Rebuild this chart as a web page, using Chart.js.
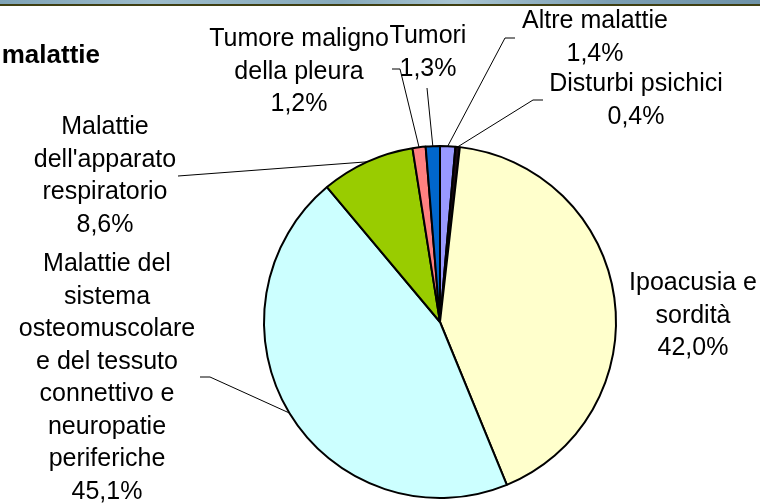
<!DOCTYPE html>
<html>
<head>
<meta charset="utf-8">
<script src="https://cdn.jsdelivr.net/npm/chart.js@4.4.0/dist/chart.umd.min.js"></script>
<style>
	body { margin: 0; background: #fff; }
	#wrap { position: relative; width: 760px; height: 504px; }
	#band {
		position: absolute; left: 0; top: 0; width: 760px; height: 4px;
		background: linear-gradient(90deg, #7fa3b6 0%, #9dbccb 20%, #87aabb 45%, #a9c5d2 60%, #7c9fb3 80%, #6f93a8 100%);
		border-bottom: 2px solid #3f3f12;
	}
</style>
</head>
<body>
<div id="wrap">
	<canvas id="graph" width="760" height="504"></canvas>
	<div id="band"></div>
</div>
<script>
// categories, one array of lines per slice (wrapped as in the slide)
const categories = [
	["Altre malattie"],
	["Disturbi psichici"],
	["Ipoacusia e", "sordità"],
	["Malattie del", "sistema", "osteomuscolare", "e del tessuto", "connettivo e", "neuropatie", "periferiche"],
	["Malattie", "dell'apparato", "respiratorio"],
	["Tumore maligno", "della pleura"],
	["Tumori"]
];
const values = [1.4, 0.4, 42.0, 45.1, 8.6, 1.2, 1.3];
const colors = ["#9999ff", "#1a0a12", "#ffffcc", "#ccffff", "#99cc00", "#ff8080", "#0066cc"];

// where each label sits (centre x, first baseline) and the bend of its leader line
const labelPos = [
	{ x: 595, y: 28, leader: [[515, 38], [505, 38]] },
	{ x: 636, y: 91, leader: [[543, 100], [533, 100]] },
	{ x: 693, y: 290 },
	{ x: 107, y: 271, leader: [[200, 377], [210, 377]] },
	{ x: 105, y: 134, leader: [[178, 176]] },
	{ x: 299, y: 46, leader: [[392, 69], [400, 69]] },
	{ x: 428, y: 43, leader: [[427, 88]] }
];
const lineH = 32.5;
const font = '25px "Liberation Sans", Arial, sans-serif';

const pct = v => v.toFixed(1).replace('.', ',') + '%';

const outsideLabels = {
	id: 'outsideLabels',
	afterDatasetsDraw(chart) {
		const ctx = chart.ctx;
		const meta = chart.getDatasetMeta(0);
		ctx.save();

		meta.data.forEach((arc, i) => {
			const pos = labelPos[i];
			const p = arc.getProps(['x', 'y', 'startAngle', 'endAngle', 'outerRadius'], true);
			const mid = (p.startAngle + p.endAngle) / 2;

			if (pos.leader) {
				ctx.strokeStyle = '#000';
				ctx.lineWidth = 1;
				ctx.beginPath();
				ctx.moveTo(pos.leader[0][0], pos.leader[0][1]);
				for (let k = 1; k < pos.leader.length; k++) {
					ctx.lineTo(pos.leader[k][0], pos.leader[k][1]);
				}
				ctx.lineTo(p.x + Math.cos(mid) * p.outerRadius, p.y + Math.sin(mid) * p.outerRadius);
				ctx.stroke();
			}

			ctx.fillStyle = '#000';
			ctx.font = font;
			ctx.textAlign = 'center';
			ctx.textBaseline = 'alphabetic';
			const lines = categories[i].concat([pct(values[i])]);
			lines.forEach((t, k) => ctx.fillText(t, pos.x, pos.y + k * lineH));
		});

		// tail of the slide title
		ctx.font = 'bold 26px "Liberation Sans", Arial, sans-serif';
		ctx.textAlign = 'right';
		ctx.fillText('malattie', 100, 63);
		ctx.restore();
	}
};

const ctx = document.getElementById('graph').getContext('2d');

const myChart = new Chart(ctx, {
	type: 'pie',
	data: {
		labels: categories,
		datasets: [{
			data: values,
			backgroundColor: colors,
			borderColor: '#000',
			borderWidth: 2
		}]
	},
	options: {
		responsive: false,
		animation: false,
		layout: {
			padding: { left: 263, right: 143, top: 145, bottom: 5 }
		},
		plugins: {
			legend: { display: false },
			tooltip: { enabled: false }
		}
	},
	plugins: [outsideLabels]
});
</script>
</body>
</html>
